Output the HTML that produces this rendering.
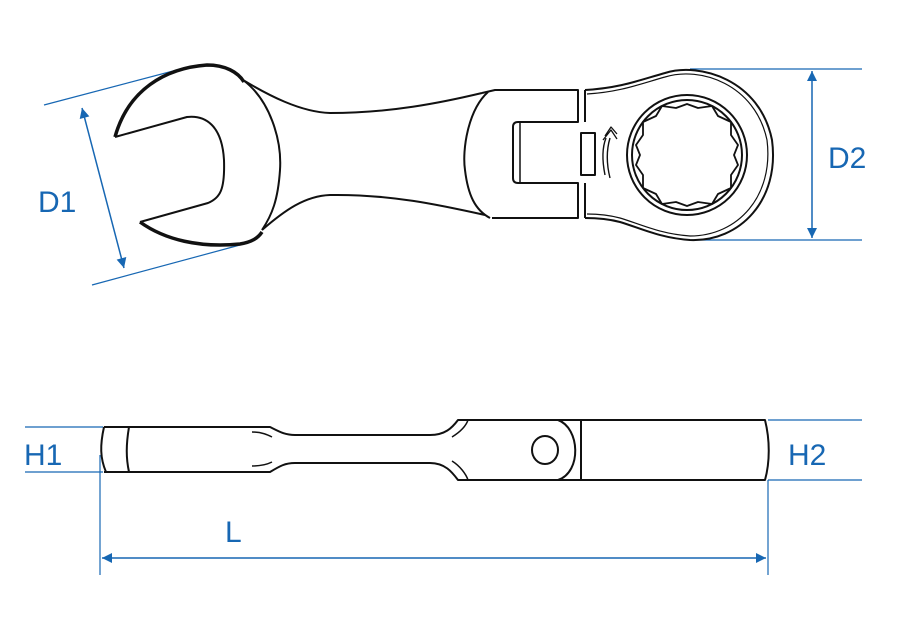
<!DOCTYPE html>
<html><head><style>html,body{margin:0;padding:0;background:#fff}svg{display:block}</style></head><body>
<svg width="900" height="640" viewBox="0 0 900 640" xmlns="http://www.w3.org/2000/svg">
<defs>
<marker id="a" viewBox="0 0 10 10" refX="10" refY="5" markerWidth="14" markerHeight="10" orient="auto-start-reverse" markerUnits="userSpaceOnUse"><path d="M0,0 L10,5 L0,10 z" fill="#1767b3"/></marker>
</defs>
<g stroke="#1767b3" stroke-width="1.2" fill="none">
<line x1="44" y1="105" x2="192" y2="66"/>
<line x1="92" y1="285" x2="240" y2="245"/>
<line x1="82" y1="108" x2="124" y2="268" marker-start="url(#a)" marker-end="url(#a)" stroke-width="1.5"/>
<line x1="690" y1="69" x2="862" y2="69"/>
<line x1="690" y1="240" x2="862" y2="240"/>
<line x1="812" y1="71" x2="812" y2="238" marker-start="url(#a)" marker-end="url(#a)" stroke-width="1.5"/>
<line x1="25" y1="427" x2="103" y2="427"/>
<line x1="25" y1="472" x2="103" y2="472"/>
<line x1="768" y1="420" x2="862" y2="420"/>
<line x1="768" y1="480" x2="862" y2="480"/>
<line x1="100" y1="455" x2="100" y2="575"/>
<line x1="768" y1="480" x2="768" y2="575"/>
<line x1="102" y1="558" x2="766" y2="558" marker-start="url(#a)" marker-end="url(#a)" stroke-width="1.5"/>
</g>
<g fill="#1767b3" font-family="Liberation Sans, sans-serif" font-size="30">
<text x="38" y="212">D1</text>
<text x="828" y="168">D2</text>
<text x="24" y="465">H1</text>
<text x="788" y="465">H2</text>
<text x="225" y="542">L</text>
</g>
<g stroke="#111" stroke-width="2" fill="none" stroke-linejoin="round">
<path d="M115,137 C128,90 165,68 207,65 C225,65 238,72 244,82" stroke-width="3.5"/>
<path d="M140,222 C165,240 200,248 240,244 C252,242 258,238 262,232" stroke-width="3.5"/>
<path d="M115,137 L187,117 C205,115 222,125 224,160 C225,190 220,198 208,203 L140,222"/>
<path d="M243,80 C270,100 282,140 280,170 C278,200 272,215 262,230"/>
<path d="M243,80 C268,95 300,112 330,113 C390,113 440,103 482,93"/>
<path d="M262,230 C285,210 305,196 330,195 C390,194 440,205 485,215"/>
<path d="M488,92 C468,110 462,150 465,170 C468,195 475,210 490,218"/>
<path d="M482,93 L495,90 L578,90 L578,122 L518,122 Q513,122 513,127 L513,178 Q513,183 518,183 L578,183 L578,218 L492,218"/>
<path d="M520,122 L520,183" stroke-width="1.5"/>
<path d="M585,90 L585,122 M585,183 L585,218"/>
<rect x="581" y="133" width="14" height="42"/>
<path d="M585,90 C620,88 640,80 665,73 C700,62 760,80 772,140 C780,200 740,242 690,240 C660,238 640,228 620,222 C605,218 592,218 585,218"/>
<path d="M587,94 C620,92 640,84 665,77 C700,66 755,84 767,140 C774,196 738,236 690,236 C660,234 640,224 620,218 C605,214 592,214 587,214" stroke-width="1.2"/>
<circle cx="687" cy="155" r="60"/>
<circle cx="687" cy="155" r="55"/>
<path d="M687,104 L698,108 L712,106 L718,116 L731,122 L731,135 L738,145 L734,155 L738,165 L731,175 L731,188 L718,194 L712,204 L698,202 L687,206 L676,202 L662,204 L656,194 L643,188 L643,175 L636,165 L640,155 L636,145 L643,135 L643,122 L656,116 L662,106 L676,108 Z" stroke-width="1.8"/>
<path d="M605,175 C602,160 602,148 606,138 M610,178 C606,162 607,148 610,138" stroke-width="1.4"/>
<path d="M603,140 L611,130 L617,139 M605,136 L611,127 L617,134" stroke-width="1.3"/>
<path d="M104,427 C100,445 100,458 106,472"/>
<path d="M129,427 C126,445 126,458 129,472"/>
<path d="M104,427 L270,427 C280,432 285,435 295,435 L430,435 C445,435 452,428 458,420 L765,420 C770,440 770,462 765,480 L458,480 C452,472 445,463 430,463 L295,463 C285,463 280,466 270,472 L104,472"/>
<path d="M252,432 C262,432 268,435 272,437 M252,466 C262,466 268,464 272,462" stroke-width="1.5"/>
<path d="M452,437 C460,432 466,426 468,420 M452,461 C460,466 466,474 468,480" stroke-width="1.5"/>
<ellipse cx="545" cy="450" rx="13" ry="14"/>
<path d="M558,420 C580,428 582,472 558,480"/>
<line x1="581" y1="420" x2="581" y2="480"/>
</g>
</svg>
</body></html>
